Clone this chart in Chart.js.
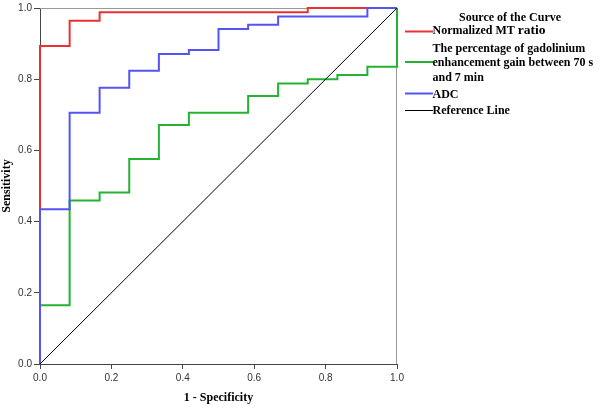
<!DOCTYPE html>
<html>
<head>
<meta charset="utf-8">
<script src="https://cdn.jsdelivr.net/npm/chart.js@4.4.1/dist/chart.umd.min.js"></script>
<style>
  body { margin: 0; background: #fff; }
  #wrap { width: 600px; height: 407px; }
</style>
</head>
<body>
<div id="wrap"><canvas id="rocChart" width="600" height="407"></canvas></div>
<script>
// ROC curve points (1 - specificity, sensitivity)
const fprMT = [0, 0, 0.083, 0.167, 0.75, 1];
const tprMT = [0, 0.893, 0.964, 0.988, 1, 1];

const fprGad = [0, 0, 0.083, 0.167, 0.25, 0.333, 0.417, 0.583, 0.667, 0.75, 0.833, 0.917, 1];
const tprGad = [0, 0.165, 0.459, 0.482, 0.576, 0.671, 0.706, 0.753, 0.788, 0.8, 0.812, 0.835, 1];

const fprADC = [0, 0, 0.083, 0.167, 0.25, 0.333, 0.417, 0.5, 0.583, 0.667, 0.917, 1];
const tprADC = [0, 0.435, 0.706, 0.776, 0.824, 0.871, 0.882, 0.941, 0.953, 0.976, 1, 1];

const fprRef = [0, 1];
const tprRef = [0, 1];

const axisTicks = [0, 0.2, 0.4, 0.6, 0.8, 1.0];

const legendTitle = 'Source of the Curve';
const legendItems = [
    { color: 'rgb(234,48,48)', lines: [['Normalized MT ', 'ratio']] },
    { color: 'rgb(36,178,52)', lines: [['The percentage of gadolinium'], ['enhancement gain between 70 s'], ['and 7 min']] },
    { color: 'rgb(84,84,244)', lines: [['ADC']] },
    { color: '#000', lines: [['Reference Line']] }
];

function toPoints(xs, ys) {
    return xs.map((x, i) => ({ x: x, y: ys[i] }));
}

const serif = '"Liberation Serif", "Times New Roman", serif';
const axisColor = '#444';

const framePlugin = {
    id: 'frame',
    beforeDatasetsDraw(chart) {
        const { ctx, chartArea } = chart;
        ctx.save();
        ctx.strokeStyle = '#9a9a9a';
        ctx.lineWidth = 1;
        ctx.beginPath();
        ctx.moveTo(chartArea.left, chartArea.top + 0.5);
        ctx.lineTo(chartArea.right, chartArea.top + 0.5);
        ctx.moveTo(chartArea.right - 0.5, chartArea.top);
        ctx.lineTo(chartArea.right - 0.5, chartArea.bottom);
        ctx.stroke();
        ctx.restore();
    }
};

const legendPlugin = {
    id: 'sideLegend',
    afterDraw(chart) {
        const ctx = chart.ctx;
        ctx.save();
        ctx.fillStyle = '#000';
        ctx.textBaseline = 'alphabetic';
        ctx.font = 'bold 12px ' + serif;
        ctx.textAlign = 'center';
        ctx.fillText(legendTitle, 510, 21);
        ctx.textAlign = 'left';

        // baselines of the text rows, and y of the line samples
        const rows = [[34], [52, 65.5, 81], [97.5], [113.5]];
        const sampleY = [31.5, 62, 93.5, 110.5];
        legendItems.forEach((item, i) => {
            ctx.strokeStyle = item.color;
            ctx.lineWidth = item.color === '#000' ? 1 : 2;
            ctx.beginPath();
            ctx.moveTo(405, sampleY[i]);
            ctx.lineTo(433, sampleY[i]);
            ctx.stroke();
            item.lines.forEach((parts, j) => {
                let x = 432.5;
                parts.forEach((part, k) => {
                    ctx.font = k === 0 ? 'bold 12px ' + serif : 'bold 13.5px ' + serif;
                    ctx.fillText(part, x, rows[i][j]);
                    x += ctx.measureText(part).width;
                });
            });
        });
        ctx.restore();
    }
};

new Chart(document.getElementById('rocChart').getContext('2d'), {
    type: 'line',
    data: {
        datasets: [
            { label: 'Reference Line', data: toPoints(fprRef, tprRef), borderColor: '#000', borderWidth: 1, order: 0 },
            { label: 'ADC', data: toPoints(fprADC, tprADC), borderColor: 'rgb(84,84,244)', borderWidth: 2, stepped: 'before', order: 1 },
            { label: 'Normalized MT ratio', data: toPoints(fprMT, tprMT), borderColor: 'rgb(234,48,48)', borderWidth: 2, stepped: 'before', order: 2 },
            { label: 'The percentage of gadolinium enhancement gain between 70 s and 7 min', data: toPoints(fprGad, tprGad), borderColor: 'rgb(36,178,52)', borderWidth: 2, stepped: 'before', order: 3 }
        ]
    },
    options: {
        responsive: false,
        animation: false,
        events: [],
        clip: false,
        elements: { point: { radius: 0 } },
        layout: { padding: { top: 7, right: 203, left: 0, bottom: 0 } },
        plugins: { legend: { display: false }, tooltip: { enabled: false } },
        scales: {
            x: {
                type: 'linear',
                min: 0,
                max: 1,
                afterFit(scale) { scale.height = 43; },
                afterBuildTicks(scale) { scale.ticks = axisTicks.map(v => ({ value: v })); },
                ticks: {
                    callback: v => v.toFixed(1),
                    font: { family: '"Liberation Sans", Arial, sans-serif', size: 10 },
                    color: '#333',
                    padding: 3,
                    maxRotation: 0
                },
                grid: { drawOnChartArea: false, drawTicks: true, tickLength: 5, color: axisColor },
                border: { display: true, color: axisColor },
                title: {
                    display: true,
                    text: '1 - Specificity',
                    font: { family: serif, size: 12, weight: 'bold' },
                    color: '#000',
                    padding: { top: 0, bottom: 2 }
                }
            },
            y: {
                type: 'linear',
                min: 0,
                max: 1,
                afterFit(scale) { scale.width = 40; },
                afterBuildTicks(scale) { scale.ticks = axisTicks.map(v => ({ value: v })); },
                ticks: {
                    callback: v => v.toFixed(1),
                    font: { family: '"Liberation Sans", Arial, sans-serif', size: 10 },
                    color: '#333',
                    padding: 2
                },
                grid: { drawOnChartArea: false, drawTicks: true, tickLength: 6, color: axisColor },
                border: { display: true, color: axisColor },
                title: {
                    display: true,
                    text: 'Sensitivity',
                    font: { family: serif, size: 12, weight: 'bold' },
                    color: '#000',
                    padding: { top: 0, bottom: 0 }
                }
            }
        }
    },
    plugins: [framePlugin, legendPlugin]
});
</script>
</body>
</html>
